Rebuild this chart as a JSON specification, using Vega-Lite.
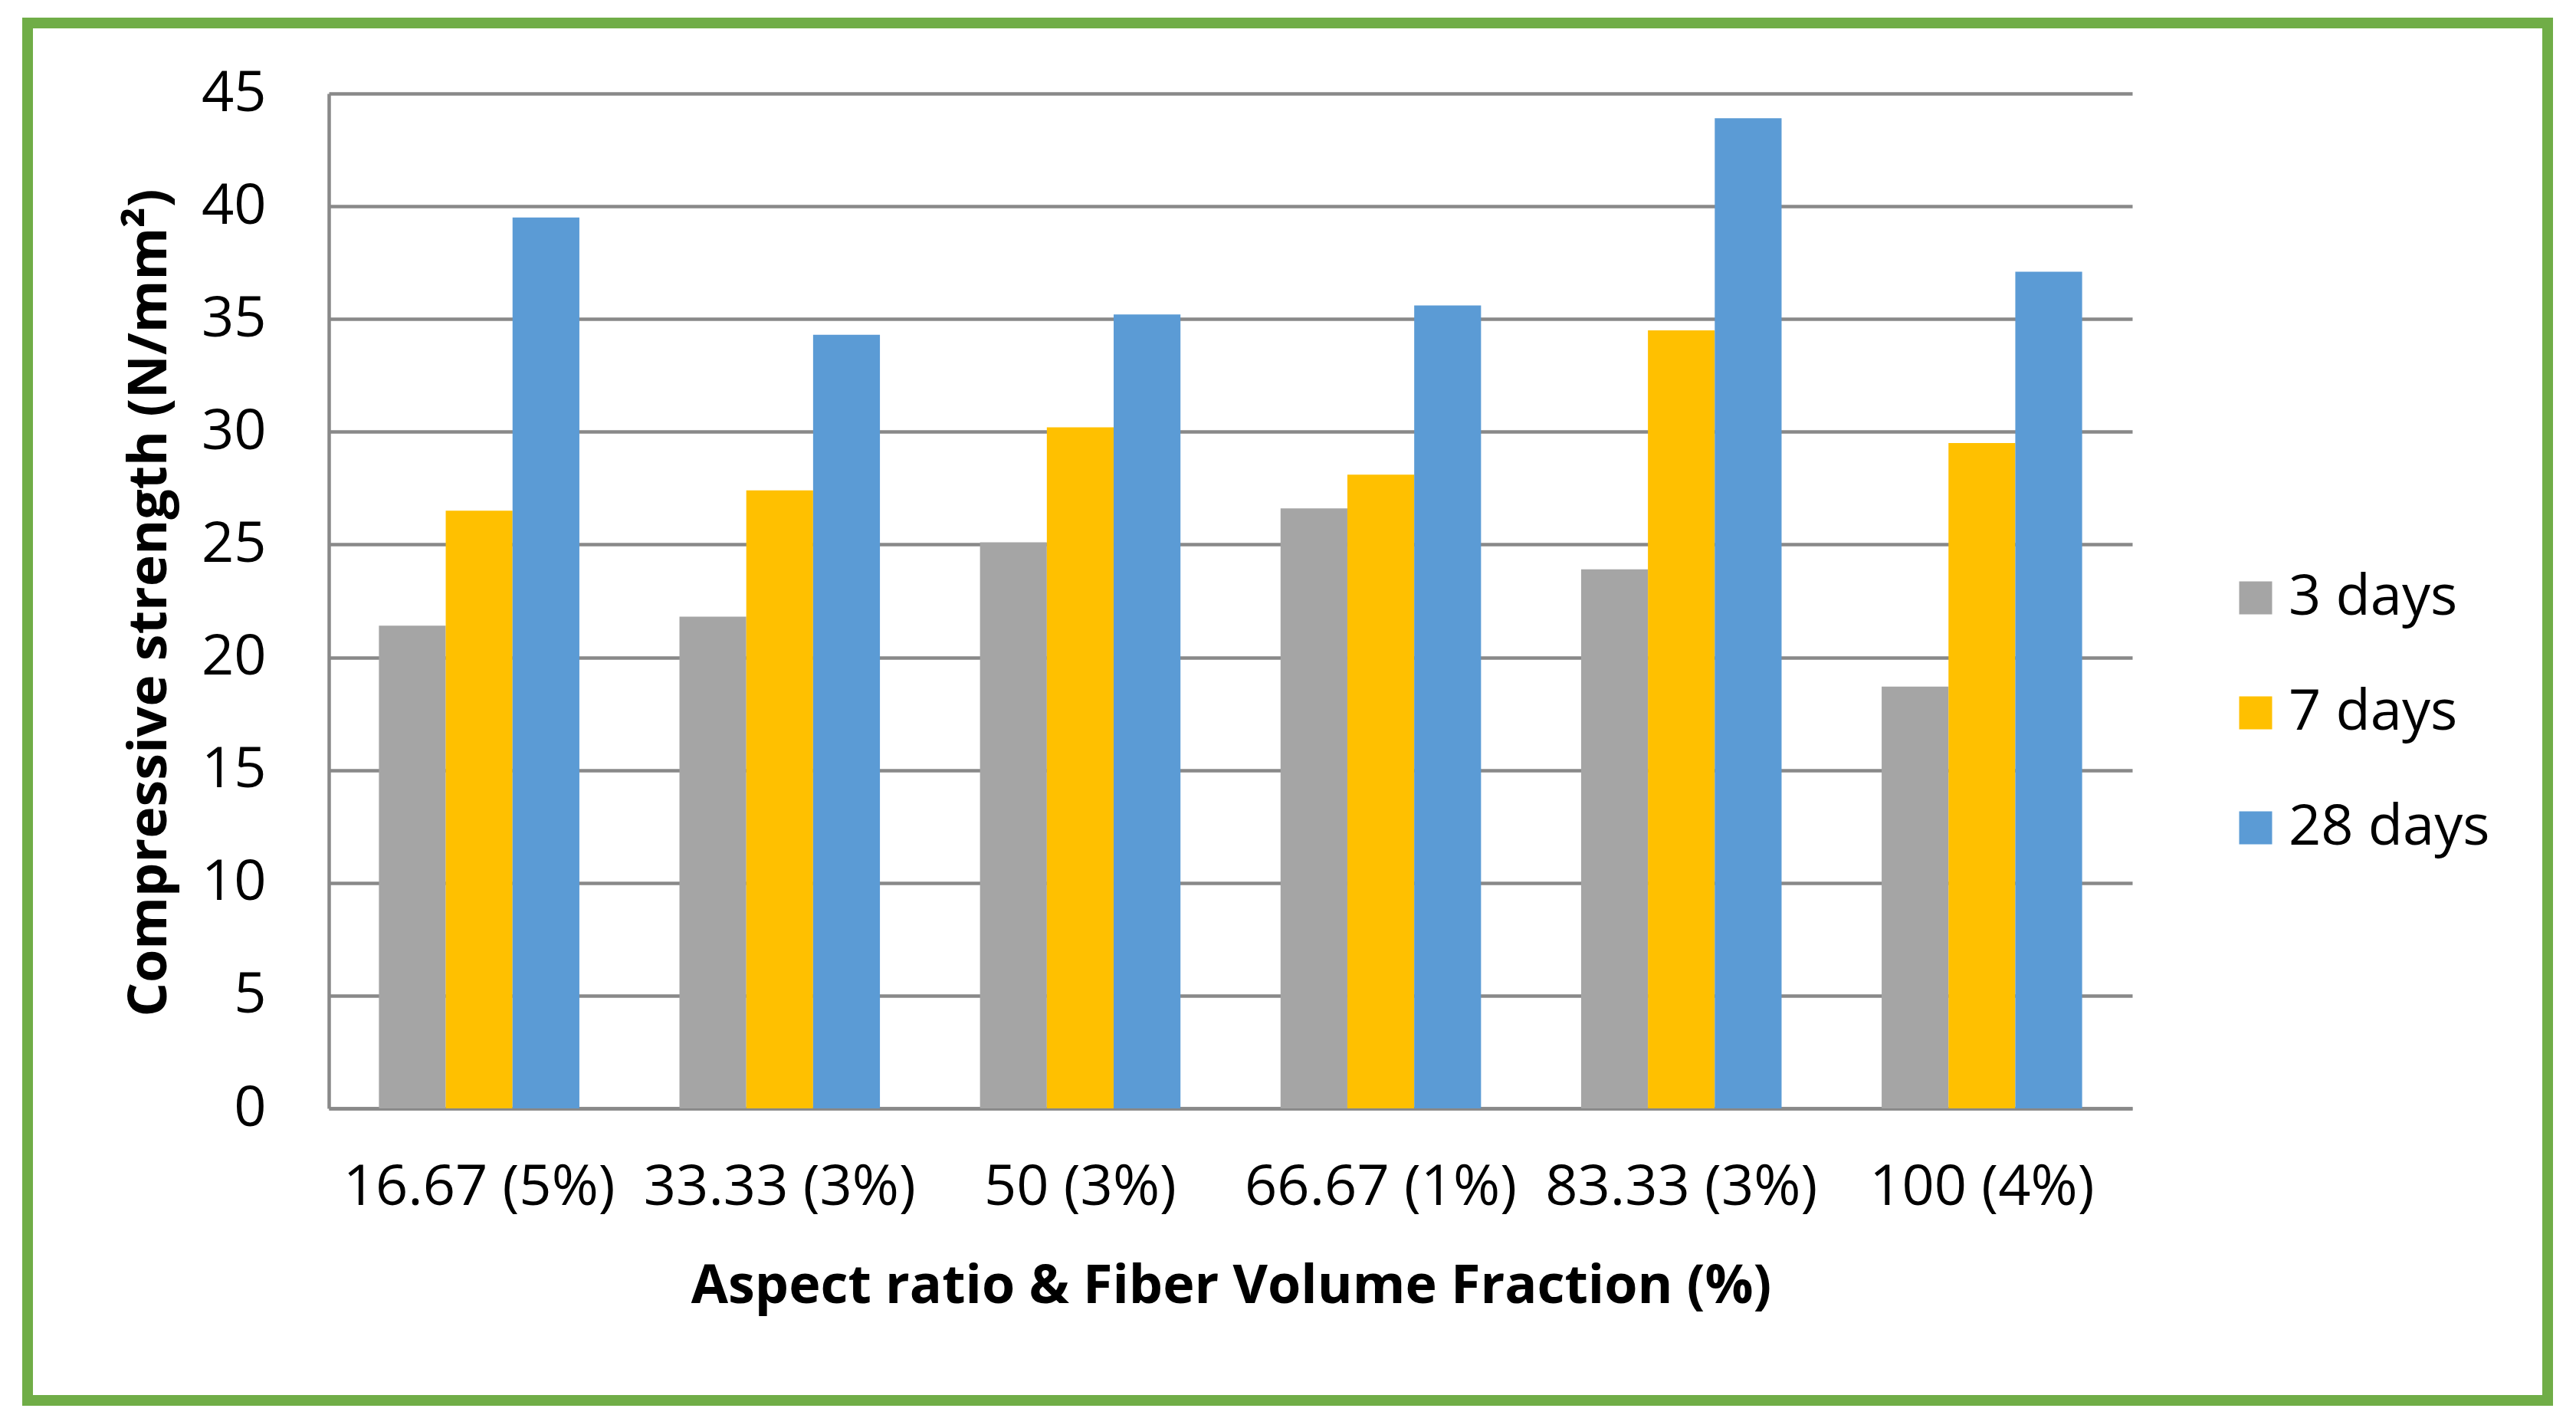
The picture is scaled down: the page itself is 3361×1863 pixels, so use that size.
{
  "$schema": "https://vega.github.io/schema/vega-lite/v6.json",
  "width": 3288,
  "height": 1797,
  "autosize": {"type": "none"},
  "padding": {"left": 36, "top": 30, "right": 37, "bottom": 36},
  "background": "white",
  "config": {
    "view": {"stroke": "#70AD47", "strokeWidth": 14, "fill": "white"},
    "font": "Open Sans"
  },
  "data": {
    "values": [
      {"ratio": "16.67 (5%)", "age": "3 days", "strength": 21.4},
      {"ratio": "16.67 (5%)", "age": "7 days", "strength": 26.5},
      {"ratio": "16.67 (5%)", "age": "28 days", "strength": 39.5},
      {"ratio": "33.33 (3%)", "age": "3 days", "strength": 21.8},
      {"ratio": "33.33 (3%)", "age": "7 days", "strength": 27.4},
      {"ratio": "33.33 (3%)", "age": "28 days", "strength": 34.3},
      {"ratio": "50 (3%)", "age": "3 days", "strength": 25.1},
      {"ratio": "50 (3%)", "age": "7 days", "strength": 30.2},
      {"ratio": "50 (3%)", "age": "28 days", "strength": 35.2},
      {"ratio": "66.67 (1%)", "age": "3 days", "strength": 26.6},
      {"ratio": "66.67 (1%)", "age": "7 days", "strength": 28.1},
      {"ratio": "66.67 (1%)", "age": "28 days", "strength": 35.6},
      {"ratio": "83.33 (3%)", "age": "3 days", "strength": 23.9},
      {"ratio": "83.33 (3%)", "age": "7 days", "strength": 34.5},
      {"ratio": "83.33 (3%)", "age": "28 days", "strength": 43.9},
      {"ratio": "100 (4%)", "age": "3 days", "strength": 18.7},
      {"ratio": "100 (4%)", "age": "7 days", "strength": 29.5},
      {"ratio": "100 (4%)", "age": "28 days", "strength": 37.1}
    ]
  },
  "mark": {"type": "bar"},
  "encoding": {
    "x": {
      "field": "ratio",
      "type": "nominal",
      "sort": null,
      "scale": {"range": [393, 2746], "paddingInner": 0.333, "paddingOuter": 0.1667},
      "axis": {
        "orient": "bottom",
        "offset": -381,
        "title": "Aspect ratio & Fiber Volume Fraction (%)",
        "titleFont": "Open Sans",
        "titleFontWeight": "bold",
        "titleFontSize": 70,
        "titleColor": "#000000",
        "titleX": 1570,
        "titleY": 232,
        "titleBaseline": "middle",
        "titleAnchor": null,
        "labelAngle": 0,
        "labelFontSize": 74,
        "labelColor": "#000000",
        "labelPadding": 67,
        "labelLimit": 0,
        "ticks": false,
        "domainColor": "#898989",
        "domainWidth": 4.5,
        "grid": false
      }
    },
    "xOffset": {"field": "age", "type": "nominal", "sort": ["3 days", "7 days", "28 days"]},
    "y": {
      "field": "strength",
      "type": "quantitative",
      "scale": {"domain": [0, 45], "range": [1416, 92], "nice": false},
      "axis": {
        "orient": "left",
        "offset": -393,
        "values": [0, 5, 10, 15, 20, 25, 30, 35, 40, 45],
        "title": "Compressive strength (N/mm²)",
        "titleFont": "Open Sans",
        "titleFontWeight": "bold",
        "titleFontSize": 70,
        "titleColor": "#000000",
        "titleX": -234,
        "titleY": 756,
        "titleAngle": -90,
        "titleBaseline": "middle",
        "titleAlign": "center",
        "titleAnchor": null,
        "labelFontSize": 74,
        "labelColor": "#000000",
        "labelPadding": 82,
        "ticks": false,
        "domainColor": "#898989",
        "domainWidth": 4.5,
        "grid": true,
        "gridColor": "#898989",
        "gridWidth": 4.5,
        "gridOpacity": 1
      }
    },
    "color": {
      "field": "age",
      "type": "nominal",
      "sort": ["3 days", "7 days", "28 days"],
      "scale": {"domain": ["3 days", "7 days", "28 days"], "range": ["#A5A5A5", "#FFC000", "#5B9BD5"]},
      "legend": {
        "title": null,
        "orient": "none",
        "legendX": 2870,
        "legendY": 713,
        "padding": 0,
        "symbolType": "square",
        "symbolSize": 1849,
        "symbolStrokeWidth": 0,
        "symbolOpacity": 1,
        "labelFontSize": 74,
        "labelColor": "#000000",
        "labelOffset": 6,
        "labelLimit": 0,
        "rowPadding": 76
      }
    }
  }
}
